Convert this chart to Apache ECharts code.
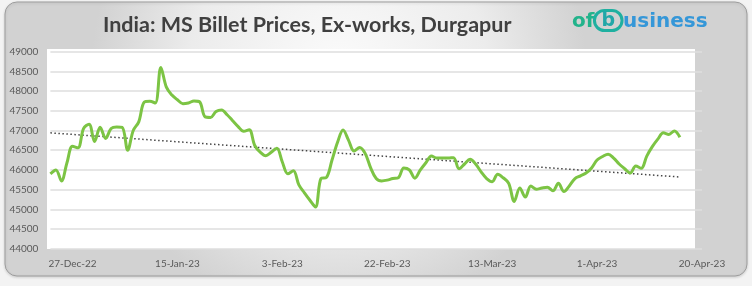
<!DOCTYPE html>
<html>
<head>
<meta charset="utf-8">
<script src="https://cdn.jsdelivr.net/npm/echarts@6/dist/echarts.min.js"></script>
<style>
  html, body { margin: 0; padding: 0; background: #f3f3f3; }
  #chart { width: 752px; height: 286px; }
</style>
</head>
<body>
<div id="chart"></div>
<script>
// axis range (one category per day)
const startDate = '2022-12-23'
const endDate = '2023-04-20'
const tickLabels = ['27-Dec-22', '15-Jan-23', '3-Feb-23', '22-Feb-23', '13-Mar-23', '1-Apr-23', '20-Apr-23']
const yTicks = [44000, 49000, 500]

// prices, one per day from 23-Dec-22
const decVals = [45900, 46000, 45720, 46180, 46600, 46560, 47050, 47160, 46720]
const janVals = [47080, 46800, 47050, 47090, 47080, 46500, 47000, 47220, 47720, 47740, 47700, 48600, 48100, 47900, 47780, 47680,
  47700, 47750, 47730, 47350, 47330, 47480, 47520, 47400, 47250, 47100, 46980, 47020, 46620, 46450, 46360]
const febVals = [46450, 46550, 46200, 45900, 45980, 45620, 45420, 45230, 45060, 45780, 45810, 46250, 46700, 47010, 46750, 46480,
  46570, 46420, 46050, 45780, 45720, 45740, 45780, 45800, 46050, 46000, 45790, 46000]
const marVals = [46180, 46350, 46300, 46300, 46300, 46310, 46030, 46150, 46270, 46150, 45950, 45780, 45700, 45890, 45800, 45660,
  45200, 45540, 45310, 45590, 45510, 45540, 45560, 45470, 45660, 45450, 45600, 45780, 45850, 45920, 46050]
const aprVals = [46250, 46340, 46400, 46300, 46150, 46030, 45920, 46100, 46040, 46350, 46590, 46780, 46940, 46900, 46990, 46830]

// dotted trend line, value at first and last price day
const trendVals = [46940, 45820]

const prices = [...decVals, ...janVals, ...febVals, ...marVals, ...aprVals]

const months = ['Jan', 'Feb', 'Mar', 'Apr', 'May', 'Jun', 'Jul', 'Aug', 'Sep', 'Oct', 'Nov', 'Dec']
const fmt = d => d.getUTCDate() + '-' + months[d.getUTCMonth()] + '-' + String(d.getUTCFullYear()).slice(2)

// daily categories
const categories = []
for (let t = Date.parse(startDate); t <= Date.parse(endDate); t += 86400000) {
  categories.push(fmt(new Date(t)))
}

const trend = [[categories[0], trendVals[0]], [categories[prices.length - 1], trendVals[1]]]

const chart = echarts.init(document.getElementById('chart'), null, { renderer: 'canvas' })

const labelFont = 'Lato'

chart.setOption({
  animation: false,
  graphic: [
    {
      type: 'rect', z: -10, silent: true,
      shape: { x: 5, y: 2, width: 742, height: 274, r: 12 },
      style: {
        fill: {
          type: 'radial', x: 0.45, y: 0.25, r: 0.9,
          colorStops: [{ offset: 0, color: '#fbfbfb' }, { offset: 0.6, color: '#ececec' }, { offset: 1, color: '#d2d2d2' }]
        },
        stroke: '#9d9d9d', lineWidth: 1,
        shadowColor: 'rgba(0,0,0,0.15)', shadowBlur: 3, shadowOffsetY: 1
      }
    },
    {
      type: 'rect', z: -5, silent: true,
      shape: { x: 47, y: 49, width: 648, height: 200 },
      style: { fill: '#ffffff' }
    },
    {
      type: 'text', left: 103, top: 14,
      style: {
        text: 'India: MS Billet Prices, Ex-works, Durgapur',
        font: 'bold 21.5px Lato', fill: '#404040'
      }
    },
    {
      type: 'text', left: 572, top: 9,
      style: {
        text: '{a|of}{b|b}{c|usiness}',
        rich: {
          a: { font: 'bold 20px "DejaVu Sans"', fill: '#22b38b', padding: [3, 0, 0, 0] },
          b: {
            font: 'bold 19px "DejaVu Sans"', fill: '#22a7a8', borderColor: '#1fb0a0', borderWidth: 3,
            borderRadius: 13, padding: [1, 7, 0, 7]
          },
          c: { font: 'bold 20px "DejaVu Sans"', fill: '#3597d8', padding: [3, 0, 0, 1] }
        }
      }
    }
  ],
  grid: { left: 50.4, right: 50, top: 51.7, bottom: 37.3 },
  xAxis: {
    type: 'category',
    data: categories,
    boundaryGap: false,
    axisLine: { show: false },
    axisTick: { show: false },
    splitLine: { show: false },
    axisLabel: {
      interval: (i, v) => tickLabels.includes(v),
      color: '#595959', fontFamily: labelFont, fontSize: 10, margin: 10
    }
  },
  yAxis: {
    type: 'value',
    min: yTicks[0], max: yTicks[1], interval: yTicks[2],
    axisLine: { show: false },
    axisTick: { show: false },
    axisLabel: { color: '#595959', fontFamily: labelFont, fontSize: 10, margin: 12, formatter: v => String(v) },
    splitLine: { lineStyle: { color: '#dedede', width: 1.5 } }
  },
  series: [
    {
      type: 'line',
      data: prices,
      smooth: 0.35,
      showSymbol: false,
      lineStyle: { color: '#7cc444', width: 3 },
      z: 3
    },
    {
      type: 'line',
      data: trend,
      showSymbol: false,
      lineStyle: { color: '#444', width: 1.5, type: [1.5, 2.5] },
      z: 2
    }
  ]
})
</script>
</body>
</html>
